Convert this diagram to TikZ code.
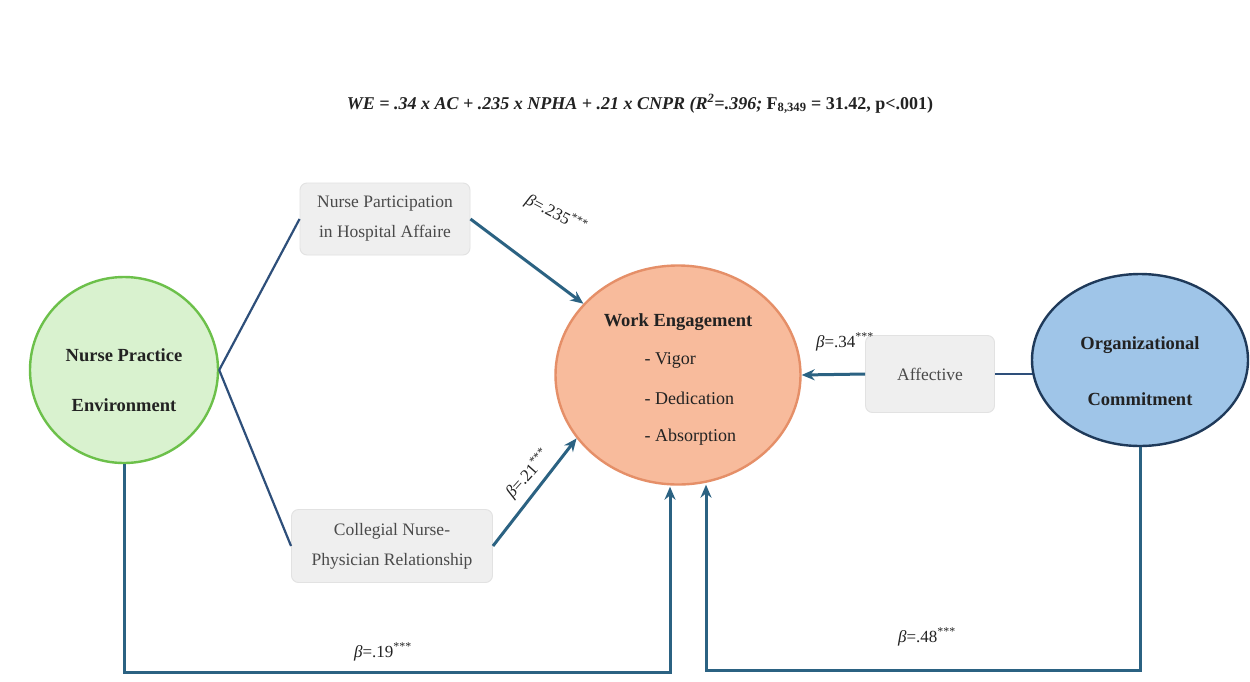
\documentclass[tikz,border=0pt]{standalone}
\usepackage{fontspec}
\setmainfont{Liberation Serif}
\usetikzlibrary{shapes.geometric,arrows.meta,calc,backgrounds}
\definecolor{grfill}{HTML}{D9F2CF}
\definecolor{grline}{HTML}{6CC04A}
\definecolor{wefill}{HTML}{F8BB9C}
\definecolor{weline}{HTML}{E58F68}
\definecolor{ocfill}{HTML}{9FC5E8}
\definecolor{ocline}{HTML}{1F3A5A}
\definecolor{boxfill}{HTML}{EFEFEF}
\definecolor{boxline}{HTML}{E2E2E2}
\definecolor{lnc}{HTML}{2E4F7A}
\definecolor{arc}{HTML}{2B6282}
\definecolor{txt}{HTML}{222222}
\definecolor{boxtxt}{HTML}{4A4A4A}
\tikzset{
  construct/.style={ellipse, line width=2.4pt, inner sep=0pt},
  dimbox/.style={rounded corners=7pt, fill=boxfill, draw=boxline, line width=0.9pt, align=center, text=boxtxt, font=\fontsize{17.5}{30}\selectfont},
  ctext/.style={text=txt, font=\bfseries\fontsize{18.5}{20}\selectfont},
  wetext/.style={text=txt, font=\fontsize{18}{20}\selectfont, anchor=west},
  link/.style={draw=lnc, line width=2.2pt},
  arr/.style={draw=arc, line width=3pt, -{Stealth[length=13pt,width=11pt]}},
  beta/.style={text=txt, font=\fontsize{17}{18}\selectfont, inner sep=1pt}
}
\begin{document}
\begin{tikzpicture}[x=1pt,y=-1pt]
\useasboundingbox (0,0) rectangle (1250,681);
% title
\node[text=txt, font=\fontsize{18}{20}\selectfont] (title) at (640,104) {\textbf{\textit{WE = .34 x AC + .235 x NPHA + .21 x CNPR (R\textsuperscript{2}=.396; }}\textbf{F\textsubscript{8,349} = 31.42, p<.001)}};
% constructs
\node[construct, fill=grfill, draw=grline, minimum width=188pt, minimum height=186pt] (npe) at (124,370) {};
\node[ctext] (npe1) at (124,355) {Nurse Practice};
\node[ctext] (npe2) at (124,405) {Environment};
\node[construct, fill=wefill, draw=weline, minimum width=245pt, minimum height=219pt] (we) at (678,375) {};
\node[ctext] (we0) at (678,322) {Work Engagement};
\node[wetext] (we1) at (641,360) {- Vigor};
\node[wetext] (we2) at (641,398) {- Dedication};
\node[wetext] (we3) at (641,437) {- Absorption};
\node[construct, fill=ocfill, draw=ocline, minimum width=216pt, minimum height=172pt] (oc) at (1140,360) {};
\node[ctext] (oc1) at (1140,345) {Organizational};
\node[ctext] (oc2) at (1140,399) {Commitment};
% dimension boxes
\node[dimbox, minimum width=170pt, minimum height=72pt] (npha) at (385,219) {Nurse Participation\\in Hospital Affaire};
\node[dimbox, minimum width=201pt, minimum height=73pt] (cnpr) at (392,546) {Collegial Nurse-\\Physician Relationship};
\node[dimbox, minimum width=129pt, minimum height=77pt] (aff) at (930,374) {Affective};
% links
\begin{scope}[on background layer]
\fill[white] (0,0) rectangle (1250,681);
\draw[link] (aff.east) -- (aff.east -| oc.center);
\end{scope}
\draw[link] (npe.east) -- (npha.west);
\draw[link] (npe.east) -- (cnpr.west);
% arrows
\draw[arr] (npha.east) -- (we.143);
\draw[arr] (cnpr.east) -- (we.212);
\draw[arr] (aff.west) -- (we.east);
\draw[arr] (npe.south) -- ++(0,208) -| ($(we.south)+(-8,1)$);
\draw[arr] (oc.south) -- ++(0,223) -| ($(we.south)+(28,-1)$);
% coefficients
\node[beta, rotate=-28] (b1) at (556,214) {\textit{β}=.235\textsuperscript{***}};
\node[beta, rotate=48] (b2) at (528,474) {\textit{β}=.21\textsuperscript{***}};
\node[beta] (b3) at (845,342) {\textit{β}=.34\textsuperscript{***}};
\node[beta] (b4) at (383,652) {\textit{β}=.19\textsuperscript{***}};
\node[beta] (b5) at (927,637) {\textit{β}=.48\textsuperscript{***}};
\end{tikzpicture}
\end{document}
